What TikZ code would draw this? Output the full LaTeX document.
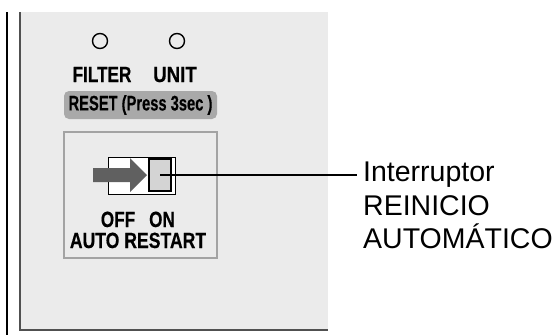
\documentclass[tikz,border=0pt]{standalone}
\usepackage{fontspec}
\setmainfont{Liberation Sans}
\newfontfamily\panelfont[FakeBold=0.5]{Liberation Sans Bold}
\usetikzlibrary{positioning}
\definecolor{panelgray}{HTML}{EBEBEB}
\definecolor{resetgray}{HTML}{A9A9A9}
\definecolor{framegray}{HTML}{A3A3A3}
\definecolor{arrowgray}{HTML}{606060}
\definecolor{knobgray}{HTML}{D4D4D4}
\definecolor{edgegray}{HTML}{505050}
\newcommand{\narrowtext}[2][0.78]{\scalebox{#1}[1]{\panelfont #2}}
\tikzset{
  paneltext/.style={anchor=base,inner sep=0pt,font=\fontsize{22}{22}\selectfont},
  led/.style={circle,draw,line width=1.4pt,minimum size=15pt,inner sep=0pt},
  resetbox/.style={fill=resetgray,rounded corners=5pt,minimum width=153pt,minimum height=28pt,inner sep=0pt,font=\fontsize{21}{21}\selectfont},
  framebox/.style={draw=framegray,fill=panelgray,line width=1.5pt,minimum width=153pt,minimum height=126pt,inner sep=0pt},
  sliderbox/.style={draw,fill=white,line width=1pt,minimum width=67pt,minimum height=37pt,inner sep=0pt},
  knobbox/.style={draw,fill=knobgray,line width=1.3pt,minimum width=22pt,minimum height=32pt,inner sep=0pt},
  calltext/.style={anchor=north west,align=left,inner sep=0pt,font=\fontsize{28.5}{33.5}\selectfont}
}
\begin{document}
\begin{tikzpicture}[x=1pt,y=-1pt]
  \useasboundingbox (0,0) rectangle (560,335);
  \fill[panelgray] (20,12) rectangle (328,330);
  \draw[edgegray,line width=1.5pt] (20,12) -- (20,330) -- (328,330);
  \draw[line width=2pt] (7,12) -- (7,335);
  \node[led] (ledfilter) at (100,41) {};
  \node[led] (ledunit) at (177,41) {};
  \node[paneltext] (filter) at (102,82) {\narrowtext{FILTER}};
  \node[paneltext] (unit) at (175,82) {\narrowtext[0.85]{UNIT}};
  \node[resetbox] (reset) at (140.5,105) {\narrowtext[0.7]{RESET (Press 3sec )}};
  \node[framebox] (autoframe) at (140.5,195) {};
  \node[sliderbox] (slider) at (141.5,175.5) {};
  \node[knobbox] (knob) at (160,175) {};
  \fill[arrowgray] (93,168) -- (130,168) -- (130,158) -- (147,175) -- (130,192) -- (130,182) -- (93,182) -- cycle;
  \node[paneltext] (off) at (118,227) {\narrowtext{OFF}};
  \node[paneltext] (on) at (162,227) {\narrowtext{ON}};
  \node[paneltext] (autorestart) at (138,248) {\narrowtext[0.8]{AUTO RESTART}};
  \node[calltext] (callout) at (363,162) {Interruptor\\REINICIO\\AUTOMÁTICO};
  \coordinate (leaderend) at (357,175);
  \draw[line width=1.2pt] (knob.center) -- (leaderend);
\end{tikzpicture}
\end{document}
